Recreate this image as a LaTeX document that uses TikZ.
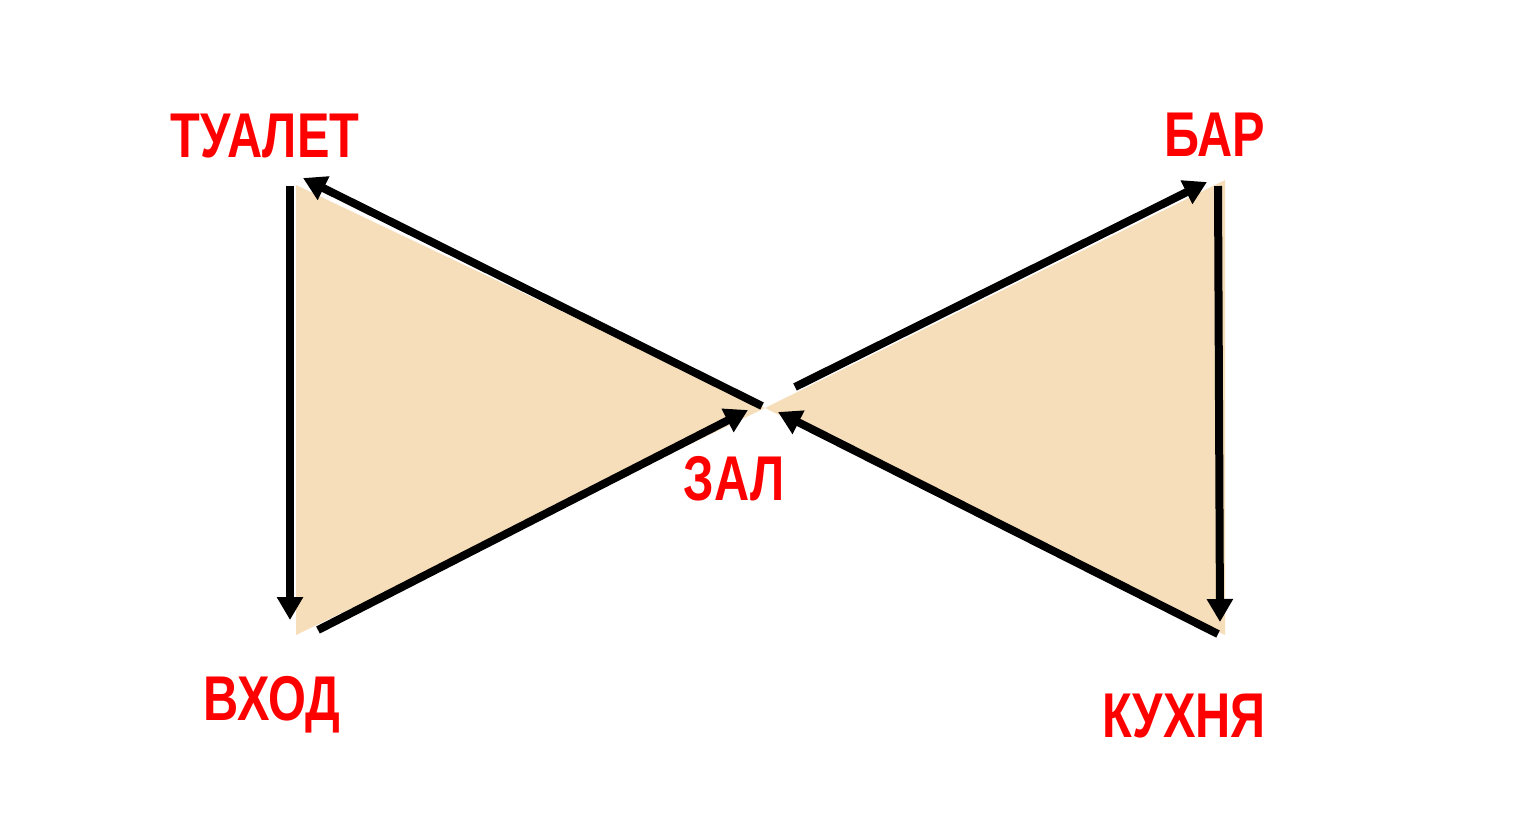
\documentclass[tikz,border=0pt]{standalone}
\usepackage{fontspec}
\newfontfamily\lblfont[FakeStretch=0.77]{Liberation Sans}
\usetikzlibrary{arrows.meta}
\definecolor{zone}{RGB}{245,222,185}
\definecolor{lblred}{RGB}{255,0,0}

\begin{document}
\begin{tikzpicture}[x=0.02cm, y=-0.02cm,
	route/.style={line width=0.16cm, -{Triangle[length=0.46cm, width=0.5cm]}},
	place/.style={anchor=base, inner sep=0pt, text=lblred, font=\lblfont\bfseries\fontsize{36}{36}\selectfont}]
\useasboundingbox (0,0) rectangle (1534,812);
% corners of the two zones
	\coordinate (lt) at (296,185);
	\coordinate (lb) at (296,635);
	\coordinate (c) at (765,408);
	\coordinate (rt) at (1225,180);
	\coordinate (rb) at (1225,635);
	\fill[zone] (lt) -- (c) -- (lb) -- cycle;
	\fill[zone] (rt) -- (c) -- (rb) -- cycle;
% route ends
	\coordinate (a1) at (290,186);
	\coordinate (a2) at (290,620);
	\coordinate (b1) at (318,630);
	\coordinate (b2) at (748,410);
	\coordinate (d1) at (762,406);
	\coordinate (d2) at (303,178);
	\coordinate (e1) at (795,387);
	\coordinate (e2) at (1207,182);
	\coordinate (f1) at (1218,186);
	\coordinate (f2) at (1220,622);
	\coordinate (g1) at (1218,634);
	\coordinate (g2) at (778,412);
	\draw[route] (a1) -- (a2);
	\draw[route] (b1) -- (b2);
	\draw[route] (d1) -- (d2);
	\draw[route] (e1) -- (e2);
	\draw[route] (f1) -- (f2);
	\draw[route] (g1) -- (g2);
% labels
	\node[place] (toilet) at (265,157) {ТУАЛЕТ};
	\node[place] (bar) at (1215,156) {БАР};
	\node[place] (hall) at (734,500) {ЗАЛ};
	\node[place] (entry) at (272,720) {ВХОД};
	\node[place] (kitchen) at (1184,737) {КУХНЯ};
\end{tikzpicture}
\end{document}
